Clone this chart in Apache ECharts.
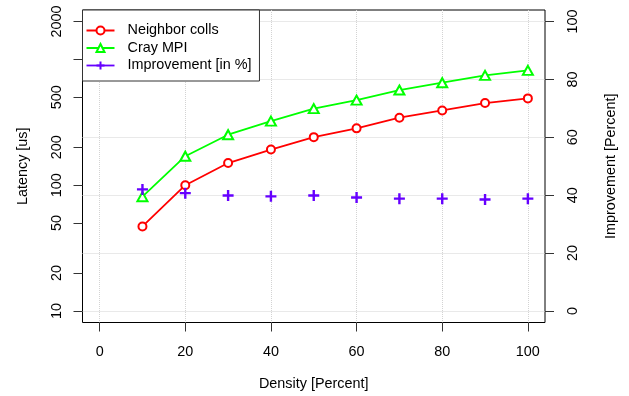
<!DOCTYPE html>
<html>
<head>
<meta charset="utf-8">
<script src="https://cdn.jsdelivr.net/npm/echarts@6/dist/echarts.min.js"></script>
<style>html,body{margin:0;padding:0;background:#fff}#c{width:629px;height:396px}</style>
</head>
<body>
<div id="c"></div>
<script>
const density = [10, 20, 30, 40, 50, 60, 70, 80, 90, 100];
const neighborColls = [47, 100, 150, 192, 241, 283, 344, 393, 450, 490];
const crayMPI = [81, 170, 252, 323, 406, 475, 571, 653, 747, 819];
const improvement = [42, 40.7, 39.9, 39.6, 39.9, 39.2, 38.8, 38.8, 38.5, 38.8];
const xTicks = [0, 20, 40, 60, 80, 100];
const latencyTicks = [10, 20, 50, 100, 200, 500, 1000, 2000];
const latencyLabels = [10, 20, 50, 100, 200, 500, 2000];
const improvementTicks = [0, 20, 40, 60, 80, 100];

const FONT = 'Liberation Sans, Arial, sans-serif';
const FS = 14.4;
const RED = '#ff0000', GREEN = '#00ff00', PURPLE = '#6600ff';
const PLUS = 'path://M5,0L5,10M0,5L10,5';

const chart = echarts.init(document.getElementById('c'), null, {renderer: 'canvas'});
const txt = {color: '#000', fontFamily: FONT, fontSize: FS};
const plain = v => String(Math.round(v * 1000) / 1000);

chart.setOption({
  animation: false,
  backgroundColor: '#fff',
  grid: {left: 82.5, right: 84, top: 10, bottom: 73.5, show: true, borderColor: '#000', borderWidth: 1, backgroundColor: 'transparent'},
  legend: {
    left: 82.5, top: 10, orient: 'vertical',
    backgroundColor: '#fff', borderColor: '#333', borderWidth: 1,
    padding: [12, 8, 7, 3],
    itemWidth: 28, itemHeight: 10, itemGap: 0.5,
    textStyle: Object.assign({}, txt, {lineHeight: 17}),
    formatter: n => '  ' + n,
    data: [
      {name: 'Neighbor colls'},
      {name: 'Cray MPI'},
      {name: 'Improvement [in %]', lineStyle: {opacity: 1, width: 1.8, color: PURPLE}}
    ]
  },
  xAxis: {
    type: 'value', min: -4, max: 104,
    name: 'Density [Percent]', nameLocation: 'middle', nameGap: 54.5, nameTextStyle: txt,
    axisLine: {show: false, onZero: false},
    axisTick: {show: true, length: 9, lineStyle: {color: '#333'}, customValues: xTicks},
    axisLabel: Object.assign({}, txt, {margin: 22.5, customValues: xTicks, formatter: plain}),
    splitLine: {show: true, lineStyle: {color: '#d3d3d3', type: 'dotted', width: 1}}
  },
  yAxis: [
    {
      type: 'log', logBase: 10, min: 8.0914, max: 2472.4, position: 'left',
      name: 'Latency [us]', nameLocation: 'middle', nameGap: 52.5, nameTextStyle: txt,
      axisLine: {show: false, onZero: false},
      axisTick: {show: true, length: 9, lineStyle: {color: '#333'}, customValues: latencyTicks},
      axisLabel: Object.assign({}, txt, {rotate: 90, margin: 18, customValues: latencyLabels, formatter: plain}),
      splitLine: {show: false}, minorTick: {show: false}
    },
    {
      type: 'value', min: -4, max: 104, position: 'right',
      name: 'Improvement [Percent]', nameLocation: 'middle', nameGap: 59, nameTextStyle: txt,
      axisLine: {show: false, onZero: false},
      axisTick: {show: true, length: 9, lineStyle: {color: '#333'}, customValues: improvementTicks},
      axisLabel: Object.assign({}, txt, {rotate: 90, margin: 21, customValues: improvementTicks, formatter: plain}),
      splitLine: {show: true, lineStyle: {color: '#d3d3d3', type: 'dotted', width: 1}}
    }
  ],
  series: [
    {
      name: 'Neighbor colls', type: 'line', yAxisIndex: 0,
      data: density.map((d, i) => [d, neighborColls[i]]),
      symbol: 'emptyCircle', symbolSize: 8,
      lineStyle: {color: RED, width: 1.8},
      itemStyle: {color: RED, borderColor: RED, borderWidth: 1.8},
      emphasis: {disabled: true}, z: 3
    },
    {
      name: 'Cray MPI', type: 'line', yAxisIndex: 0,
      data: density.map((d, i) => [d, crayMPI[i]]),
      symbol: 'emptyTriangle', symbolSize: [10, 9],
      lineStyle: {color: GREEN, width: 1.8},
      itemStyle: {color: GREEN, borderColor: GREEN, borderWidth: 1.8},
      emphasis: {disabled: true}, z: 3
    },
    {
      name: 'Improvement [in %]', type: 'line', yAxisIndex: 1,
      data: density.map((d, i) => [d, improvement[i]]),
      symbol: PLUS, symbolSize: 11,
      lineStyle: {color: PURPLE, width: 1.8, opacity: 0},
      itemStyle: {color: 'none', borderColor: PURPLE, borderWidth: 2.4},
      emphasis: {disabled: true}, z: 4
    }
  ]
});
</script>
</body>
</html>
